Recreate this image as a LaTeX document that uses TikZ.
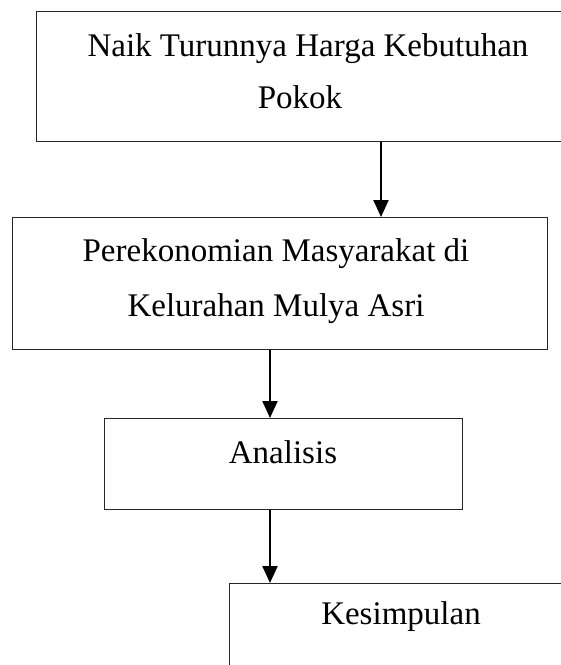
\documentclass[tikz,border=0pt]{standalone}
\usepackage{fontspec}
\setmainfont{Liberation Serif}
\usetikzlibrary{arrows.meta}
\begin{document}
\begin{tikzpicture}[x=1pt,y=-1pt,
  box/.style={draw=black!85,line width=1.4pt,inner sep=0pt,anchor=north west},
  txt/.style={font=\fontsize{33}{54}\selectfont,inner sep=0pt,anchor=base,align=center},
  arr/.style={draw=black,line width=2.2pt,-{Triangle[width=15pt,length=17pt]}}]
\useasboundingbox (0,0) rectangle (561,665);
\clip (0,0) rectangle (561,665);
\fill[white] (0,0) rectangle (561,665);
% boxes
\node[box,minimum width=530pt,minimum height=130pt] (b1) at (36,11) {};
\node[box,minimum width=535pt,minimum height=132pt] (b2) at (12,217) {};
\node[box,minimum width=358pt,minimum height=91pt] (b3) at (104,418) {};
\node[box,minimum width=342pt,minimum height=120pt] (b4) at (229,583) {};
% texts
\node[txt] (t1a) at (308,56) {Naik Turunnya Harga Kebutuhan};
\node[txt] (t1b) at (300,108) {Pokok};
\node[txt] (t2a) at (276,261) {Perekonomian Masyarakat di};
\node[txt] (t2b) at (276,316) {Kelurahan Mulya Asri};
\node[txt] (t3) at (283,463) {Analisis};
\node[txt] (t4) at (401,624) {Kesimpulan};
% arrows
\draw[arr] (b1.south -| 381,0) -- (b2.north -| 381,0);
\draw[arr] (b2.south -| 270,0) -- (b3.north -| 270,0);
\draw[arr] (b3.south -| 270,0) -- (b4.north -| 270,0);
\end{tikzpicture}
\end{document}
